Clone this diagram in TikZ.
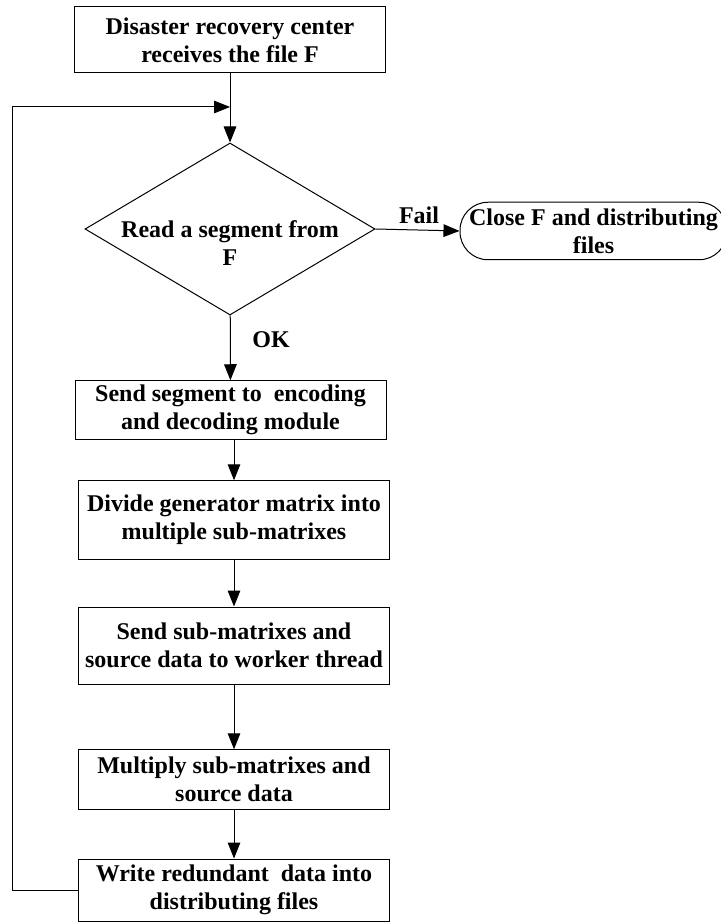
\documentclass[tikz,border=0pt]{standalone}
\usepackage{fontspec}
\setmainfont{Liberation Serif}
\usepackage{tikz}
\usetikzlibrary{shapes.geometric, arrows.meta}
\tikzset{
  box/.style={rectangle, draw=black, minimum width=155.5pt, inner sep=1pt,
    align=center, font=\bfseries\fontsize{12}{14}\selectfont, line width=0.5pt},
  decision/.style={diamond, draw=black, minimum width=145pt, minimum height=86pt,
    inner sep=0pt, line width=0.5pt},
  terminal/.style={rectangle, draw=black, rounded corners=14pt,
    minimum width=133.5pt, minimum height=28.75pt, inner sep=1pt,
    align=center, font=\bfseries\fontsize{12}{14}\selectfont, line width=0.5pt},
  lbl/.style={font=\bfseries\fontsize{12}{14}\selectfont, align=center},
  arrow/.style={-{Triangle[length=8pt,width=6.3pt]}, line width=0.5pt, color=black}
}
\begin{document}
\begin{tikzpicture}[x=0.5pt, y=-0.5pt]
  \useasboundingbox (0,0) rectangle (720,924);
  % Start
  \node[box, minimum height=33pt] (recv) at (230,40)
    {Disaster recovery center\\receives the file F};
  \coordinate (join) at (230,107);
  % Decision
  \node[decision] (read) at (230,229) {};
  \node[lbl] (readtxt) at (230,243) {Read a segment from\\F};
  \node[terminal] (close) at (593.5,231) {Close F and distributing\\files};
  % Processing steps
  \node[box, minimum height=29.25pt] (send) at (230.5,410)
    {Send segment to\ \ encoding\\and decoding module};
  \node[box, minimum width=155.25pt, minimum height=39.25pt] (divide) at (234,520)
    {Divide generator matrix into\\multiple sub-matrixes};
  \node[box, minimum width=155.25pt, minimum height=38.5pt] (worker) at (234,645.5)
    {Send sub-matrixes and\\source data to worker thread};
  \node[box, minimum width=155.25pt, minimum height=29.75pt] (mult) at (234,779.5)
    {Multiply sub-matrixes and\\source data};
  \node[box, minimum width=155.25pt, minimum height=31pt] (write) at (234,890)
    {Write redundant\ \ data into\\distributing files};
  % Labels
  \node[lbl] (faillbl) at (419,215) {Fail};
  \node[lbl] (oklbl) at (271,340) {OK};
  % Connectors
  \draw[arrow] (recv) -- (read);
  \draw[arrow] (read.east) -- (close.west);
  \draw[arrow] (read) -- (send);
  \draw[arrow] (send.south -| divide.north) -- (divide.north);
  \draw[arrow] (divide) -- (worker);
  \draw[arrow] (worker) -- (mult);
  \draw[arrow] (mult) -- (write);
  % Loop back
  \draw[arrow] (write.west) -- ++(-66,0) |- (join);
\end{tikzpicture}
\end{document}
